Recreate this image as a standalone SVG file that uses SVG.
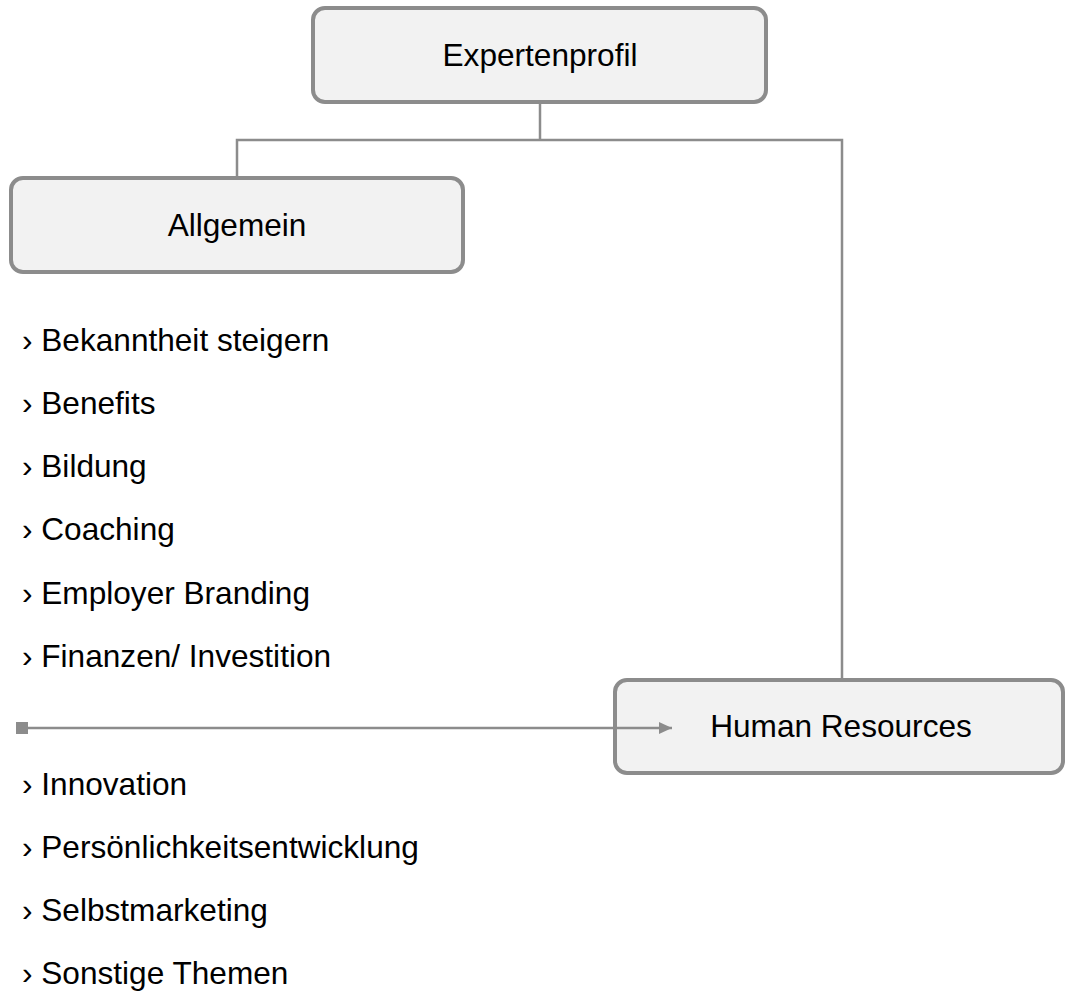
<svg xmlns="http://www.w3.org/2000/svg" width="1065" height="996" viewBox="0 0 1065 996">
<style>
.box{fill:#f2f2f2;stroke:#8c8c8c;stroke-width:4}
.lbl{font-family:"Liberation Sans",Arial,sans-serif;font-size:31.6px;fill:#000}
.item{font-family:"Liberation Sans",Arial,sans-serif;font-size:31.6px;fill:#000}
.conn{fill:none;stroke:#8c8c8c;stroke-width:2.5}
</style>
<defs>
<marker id="arr" markerWidth="14" markerHeight="14" refX="13" refY="7" orient="auto" markerUnits="userSpaceOnUse">
<path d="M0,1 L13,7 L0,13 Z" fill="#8c8c8c"/>
</marker>
</defs>
<rect width="1065" height="996" fill="#fff"/>
<g id="node-expertenprofil">
<rect class="box" x="313" y="8" width="453" height="94" rx="12"/>
<text class="lbl" x="540" y="66" text-anchor="middle">Expertenprofil</text>
</g>
<g id="node-allgemein">
<rect class="box" x="11" y="178" width="452" height="94" rx="12"/>
<text class="lbl" x="237" y="236" text-anchor="middle">Allgemein</text>
</g>
<g id="node-hr">
<rect class="box" x="615" y="680" width="448" height="93" rx="12"/>
<text class="lbl" x="841" y="737" text-anchor="middle">Human Resources</text>
</g>
<g id="list">
<text class="item" x="22" y="351">› Bekanntheit steigern</text>
<text class="item" x="22" y="414">› Benefits</text>
<text class="item" x="22" y="477">› Bildung</text>
<text class="item" x="22" y="540">› Coaching</text>
<text class="item" x="22" y="604">› Employer Branding</text>
<text class="item" x="22" y="667">› Finanzen/ Investition</text>
<text class="item" x="22" y="795">› Innovation</text>
<text class="item" x="22" y="858">› Persönlichkeitsentwicklung</text>
<text class="item" x="22" y="921">› Selbstmarketing</text>
<text class="item" x="22" y="984">› Sonstige Themen</text>
</g>
<g id="connectors">
<path class="conn" d="M540,102 V140"/>
<path class="conn" d="M237,178 V140 H842 V680"/>
<path class="conn" d="M24,728 H672" marker-end="url(#arr)"/>
<rect x="16" y="722" width="12" height="12" fill="#8c8c8c"/>
</g>
</svg>
